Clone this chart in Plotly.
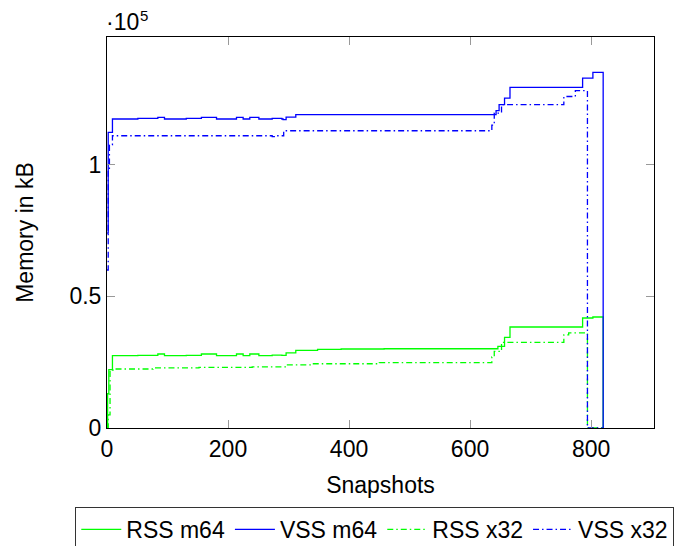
import plotly.graph_objects as go

# ---- data (snapshot index where value changes, memory in kB) ----
vss_m64_x = [0, 2, 9, 51, 84, 95, 131, 156, 181, 214, 225, 236, 251, 273, 289, 291, 296, 312,
             643, 648, 657, 666, 786, 803, 820]
vss_m64_y = [74000, 112300, 117350, 117600, 118000, 117350, 117600, 118000, 117350, 118000, 117350,
             118000, 117350, 117600, 117350, 117100, 118100, 119000,
             120500, 122800, 125300, 129360, 132900, 135060, 0]

rss_m64_x = [0, 1, 3, 9, 51, 84, 95, 131, 156, 181, 214, 225, 236, 251, 273, 289, 296, 312, 348,
             387, 458, 646, 657, 666, 786, 803, 820]
rss_m64_y = [0, 13000, 22160, 27460, 27600, 28100, 27460, 27600, 28100, 27460, 28100, 27460, 28100,
             27460, 27700, 27600, 28500, 29500, 29850,
             30000, 30100, 31000, 34400, 38360, 41780, 42160, 0]

vss_x32_x = [0, 2, 4, 9, 273, 280, 292, 636, 640, 652, 755, 774, 794, 820]
vss_x32_y = [60000, 98000, 107500, 111000, 110700, 111000, 112900, 115000, 119600, 122800,
             125900, 128100, 0, 0]

rss_x32_x = [0, 2, 5, 10, 76, 152, 240, 296, 338, 450, 636, 640, 652, 755, 763, 794, 820]
rss_x32_y = [0, 5000, 22000, 22400, 22800, 23000, 23200, 24000, 24400, 24800, 27000, 29100,
             32500, 35400, 36100, 0, 0]

x_ticks = [0, 200, 400, 600, 800]
y_ticks = [0, 50000, 100000]
y_tick_text = ["0", "0.5", "1"]

FONT = "Liberation Sans"
FS = 23
GREEN = "rgb(0,255,0)"
BLUE = "rgb(0,0,255)"
DASHDOT = "6px,3px,1.5px,3px"
LW = 1.3

fig = go.Figure()
fig.add_trace(go.Scatter(x=rss_m64_x, y=rss_m64_y, mode="lines", name="RSS m64",
                         line=dict(color=GREEN, width=LW, shape="hv")))
fig.add_trace(go.Scatter(x=vss_m64_x, y=vss_m64_y, mode="lines", name="VSS m64",
                         line=dict(color=BLUE, width=LW, shape="hv")))
fig.add_trace(go.Scatter(x=rss_x32_x, y=rss_x32_y, mode="lines", name="RSS x32",
                         line=dict(color=GREEN, width=LW, shape="hv", dash=DASHDOT)))
fig.add_trace(go.Scatter(x=vss_x32_x, y=vss_x32_y, mode="lines", name="VSS x32",
                         line=dict(color=BLUE, width=LW, shape="hv", dash=DASHDOT)))

axis_common = dict(
    showgrid=False, zeroline=False, showline=True, linecolor="black", linewidth=1,
    mirror="allticks", ticks="inside", ticklen=8, tickcolor="#999999", tickwidth=1,
    tickfont=dict(family=FONT, size=FS, color="black"),
)

fig.update_layout(
    width=683, height=560,
    margin=dict(l=99, r=37, t=29, b=140),
    paper_bgcolor="white", plot_bgcolor="white",
    font=dict(family=FONT, size=FS, color="black"),
    xaxis=dict(range=[0, 904], tickvals=x_ticks, ticktext=[str(v) for v in x_ticks],
               title=dict(text="Snapshots", font=dict(family=FONT, size=FS), standoff=16),
               **axis_common),
    yaxis=dict(range=[0, 148500], tickvals=y_ticks, ticktext=y_tick_text,
               title=dict(text="Memory in kB", font=dict(family=FONT, size=FS), standoff=29),
               **axis_common),
    legend=dict(orientation="h", x=-0.058, xanchor="left", y=-0.202, yanchor="top",
                bordercolor="#333333", borderwidth=1, bgcolor="white",
                font=dict(family=FONT, size=FS), itemwidth=40, tracegroupgap=0),
    showlegend=True,
    annotations=[
        dict(text="·10", xref="paper", yref="paper", x=-0.005, y=1.0,
             xanchor="left", yanchor="bottom", showarrow=False, yshift=0,
             font=dict(family=FONT, size=FS)),
        dict(text="5", xref="paper", yref="paper", x=0.057, y=1.0,
             xanchor="left", yanchor="bottom", showarrow=False, yshift=11,
             font=dict(family=FONT, size=15)),
    ],
)

fig.write_html("out.html")
